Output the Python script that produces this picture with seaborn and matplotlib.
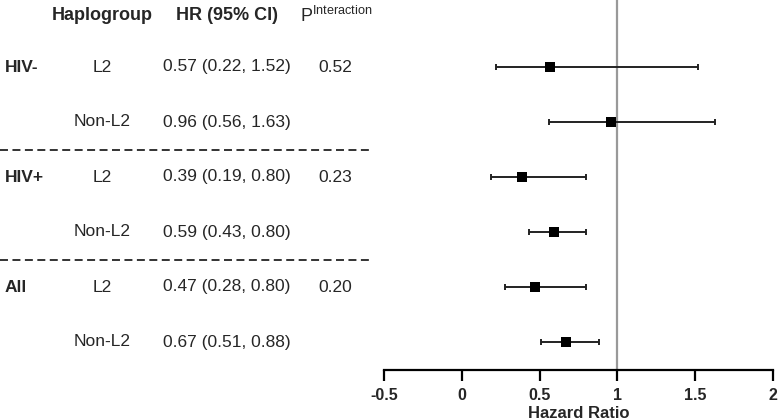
import matplotlib
matplotlib.use("Agg")
import matplotlib.pyplot as plt
import seaborn as sns
import pandas as pd
import numpy as np

groups = ["HIV-", "", "HIV+", "", "All", ""]
haplogroups = ["L2", "Non-L2", "L2", "Non-L2", "L2", "Non-L2"]
hr = [0.57, 0.96, 0.39, 0.59, 0.47, 0.67]
lower = [0.22, 0.56, 0.19, 0.43, 0.28, 0.51]
upper = [1.52, 1.63, 0.80, 0.80, 0.80, 0.88]
p_interaction = ["0.52", "", "0.23", "", "0.20", ""]
xticks = [-0.5, 0, 0.5, 1, 1.5, 2]
xticklabels = ["-0.5", "0", "0.5", "1", "1.5", "2"]

sns.set_theme(style="white")
plt.rcParams['font.family'] = ['Liberation Sans', 'DejaVu Sans']

W, H = 779, 420
fig = plt.figure(figsize=(W / 100, H / 100), dpi=100)

row_px = [67, 121, 177, 233, 287, 342]
step = 55.0
y_top = (0 - row_px[0]) / step
y_bot = 5 + (370 - row_px[5]) / step

df = pd.DataFrame({"row": np.arange(len(hr)), "hr": hr, "lo": lower, "hi": upper,
                   "grp": groups, "hap": haplogroups, "p": p_interaction})

# forest axes
ax = fig.add_axes([384 / W, 1 - 370 / H, (773 - 384) / W, 370 / H])
ax.axvline(1, color="#999999", lw=1.6, zorder=1)
ax.errorbar(df["hr"], df["row"], xerr=[df["hr"] - df["lo"], df["hi"] - df["hr"]],
            fmt="none", ecolor="#222222", elinewidth=1.4, capsize=2.5, capthick=1.4, zorder=2)
sns.scatterplot(data=df, x="hr", y="row", marker="s", s=62, color="black",
                linewidth=0, ax=ax, zorder=3, legend=False)
ax.set_xlim(-0.5, 2)
ax.set_ylim(y_bot, y_top)
ax.set_yticks([])
ax.set_ylabel("")
for s in ["top", "left", "right"]:
    ax.spines[s].set_visible(False)
ax.spines["bottom"].set_color("black")
ax.spines["bottom"].set_linewidth(1.6)
ax.set_xticks(xticks)
ax.set_xticklabels(xticklabels, fontweight="bold", fontsize=11.5)
ax.tick_params(axis="x", direction="out", length=8, width=1.6, color="black", pad=5, bottom=True)
ax.set_xlabel("Hazard Ratio", fontweight="bold", fontsize=12, labelpad=2)
ax.patch.set_alpha(0)

# table axes
tx = fig.add_axes([0, 1 - 370 / H, 380 / W, 370 / H])
tx.set_xlim(0, 380)
tx.set_ylim(y_bot, y_top)
tx.axis("off")
fs = 12.5
hdr_y = (16 - row_px[0]) / step
tx.text(102, hdr_y, "Haplogroup", ha="center", va="center", fontsize=13, fontweight="bold")
tx.text(227, hdr_y, "HR (95% CI)", ha="center", va="center", fontsize=13, fontweight="bold")
tx.text(300, hdr_y, r"P$^{\mathregular{Interaction}}$", ha="left", va="center", fontsize=13)
for i in range(len(hr)):
    if groups[i]:
        tx.text(5, i, groups[i], ha="left", va="center", fontsize=fs, fontweight="bold")
    tx.text(102, i, haplogroups[i], ha="center", va="center", fontsize=fs)
    tx.text(227, i, f"{hr[i]:.2f} ({lower[i]:.2f}, {upper[i]:.2f})", ha="center", va="center", fontsize=fs)
    if p_interaction[i]:
        tx.text(335, i, p_interaction[i], ha="center", va="center", fontsize=fs)
for yy in [1.5, 3.5]:
    tx.plot([0, 372], [yy, yy], color="#333333", lw=1.4, linestyle=(0, (4.1, 2.3)))

fig.savefig("out.png", dpi=100)
